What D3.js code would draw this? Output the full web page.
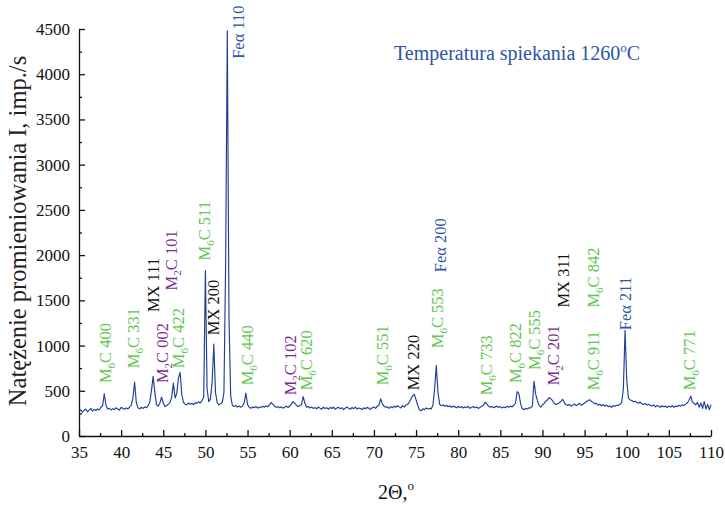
<!DOCTYPE html>
<html>
<head>
<meta charset="utf-8">
<script src="https://cdn.jsdelivr.net/npm/d3@7/dist/d3.min.js"></script>
<style>
  body { margin: 0; background: #fff; }
  svg { display: block; }
  text { font-family: "Liberation Serif", "Times New Roman", serif; }
</style>
</head>
<body>
<div id="chart"></div>
<script>
// scan: 2theta from 35 to 110, step 0.2 deg
const thetaStart = 35;
const thetaStep = 0.2;
const counts = [
  270, 290, 262, 284, 298, 268, 286, 305, 276, 292,
  282, 300, 288, 318, 335, 465, 340, 298, 306, 288,
  302, 292, 312, 298, 286, 318, 304, 296, 310, 300,
  318, 340, 420, 595, 370, 312, 300, 318, 305, 322,
  312, 335, 372, 505, 660, 480, 345, 330, 365, 430,
  365, 325, 338, 352, 372, 430, 585, 420, 470, 640,
  705, 455, 372, 352, 345, 366, 350, 362, 348, 370,
  360, 378, 366, 392, 430, 1830, 520, 380, 410, 600,
  1015, 480, 370, 345, 355, 370, 480, 1900, 4480, 1300,
  440, 340, 325, 338, 320, 332, 318, 328, 365, 475,
  350, 318, 306, 322, 312, 326, 308, 320, 315, 330,
  318, 334, 322, 345, 370, 352, 330, 318, 325, 312,
  322, 308, 318, 330, 315, 332, 350, 380, 362, 340,
  325, 338, 345, 436, 365, 318, 326, 310, 320, 305,
  315, 300, 322, 308, 296, 318, 305, 312, 298, 316,
  304, 320, 296, 310, 318, 300, 314, 292, 308, 320,
  305, 296, 315, 302, 320, 298, 310, 304, 292, 312,
  300, 318, 306, 294, 312, 320, 305, 330, 342, 410,
  355, 330, 318, 322, 306, 325, 312, 330, 318, 335,
  322, 310, 335, 320, 342, 350, 375, 410, 445, 460,
  400, 340, 290, 278, 300, 292, 310, 298, 305, 300,
  340, 520, 780, 480, 350, 335, 345, 328, 340, 322,
  335, 318, 330, 322, 312, 328, 316, 324, 310, 322,
  315, 328, 306, 318, 325, 312, 320, 305, 318, 330,
  340, 375, 352, 330, 318, 326, 312, 322, 330, 316,
  325, 310, 320, 312, 328, 318, 330, 322, 340, 365,
  490, 470, 360, 300, 292, 305, 298, 312, 310, 330,
  605, 460, 390, 340, 318, 345, 360, 385, 400, 425,
  410, 390, 362, 348, 355, 368, 385, 405, 370, 345,
  338, 350, 330, 342, 355, 335, 348, 362, 340, 352,
  365, 378, 392, 400, 385, 372, 355, 362, 340, 352,
  335, 348, 330, 342, 325, 332, 318, 335, 328, 340,
  338, 350, 372, 520, 1168, 620, 420, 398, 392, 378,
  385, 370, 362, 375, 355, 348, 360, 342, 350, 338,
  330, 345, 322, 338, 328, 318, 335, 322, 330, 315,
  328, 320, 335, 318, 330, 325, 340, 330, 345, 338,
  352, 368, 395, 440, 375, 360, 345, 372, 318, 365,
  305, 380, 298, 350, 292, 345
];

const xTicks = [35, 40, 45, 50, 55, 60, 65, 70, 75, 80, 85, 90, 95, 100, 105, 110];
const yTicks = [0, 500, 1000, 1500, 2000, 2500, 3000, 3500, 4000, 4500];

// peak labels: phase, reflection, 2theta, intensity where the label starts
const labelPhase = ["M6C", "M6C", "MX", "M2C", "M2C", "M6C", "M6C", "MX", "Fe", "M6C", "M2C", "M6C", "M6C",
  "MX", "M6C", "Fe", "M6C", "M6C", "M6C", "M2C", "MX", "M6C", "M6C", "Fe", "M6C"];
const labelHkl = ["400", "331", "111", "101", "002", "422", "511", "200", "110", "440", "102", "620", "551",
  "220", "553", "200", "733", "822", "555", "201", "311", "842", "911", "211", "771"];
const labelTheta = [38.1, 41.5, 43.8, 46.0, 44.85, 46.75, 49.95, 51.0, 53.9, 54.95, 60.15, 62.05, 71.05,
  74.75, 77.5, 77.85, 83.4, 86.75, 89.1, 91.25, 92.45, 96.1, 96.1, 99.9, 107.5];
const labelLevel = [585, 750, 1370, 1610, 585, 750, 1940, 1115, 4170, 560, 450, 505, 560,
  505, 970, 1810, 450, 585, 730, 560, 1420, 1420, 505, 1170, 505];

const phaseColor = { M6C: "#62c450", M2C: "#7a2b8f", MX: "#111111", Fe: "#2d55a8" };
const serif = '"Liberation Serif", "Times New Roman", serif';

const W = 725, H = 509;
const svg = d3.select("#chart").append("svg").attr("width", W).attr("height", H);

const x = d3.scaleLinear().domain([35, 110]).range([79, 711]);
const y = d3.scaleLinear().domain([0, 4500]).range([436, 29]);

// minor ticks halfway between major ones
const xMinor = xTicks.slice(0, -1).map((v) => v + 2.5);
const yMinor = yTicks.slice(0, -1).map((v) => v + 250);

// axes (ticks point inward)
svg.append("g").attr("transform", `translate(0,${y(0)})`)
  .call(d3.axisBottom(x).tickValues(xTicks).tickFormat(d3.format("d"))
    .tickSizeInner(-6).tickSizeOuter(0).tickPadding(10));
svg.append("g").attr("transform", `translate(0,${y(0)})`)
  .call(d3.axisBottom(x).tickValues(xMinor).tickSizeInner(-3).tickSizeOuter(0).tickFormat(""))
  .select(".domain").remove();

svg.append("g").attr("transform", `translate(${x(35)},0)`)
  .call(d3.axisLeft(y).tickValues(yTicks).tickFormat(d3.format("d"))
    .tickSizeInner(-6).tickSizeOuter(0).tickPadding(9));
svg.append("g").attr("transform", `translate(${x(35)},0)`)
  .call(d3.axisLeft(y).tickValues(yMinor).tickSizeInner(-3).tickSizeOuter(0).tickFormat(""))
  .select(".domain").remove();

svg.selectAll("g").attr("font-family", serif);
svg.selectAll(".tick text").attr("font-size", 17).attr("fill", "#111");
svg.selectAll(".domain, .tick line").attr("stroke", "#111").attr("stroke-width", 1.3);

// diffraction pattern
const line = d3.line()
  .x((d, i) => x(thetaStart + i * thetaStep))
  .y((d) => y(d));

svg.append("path").datum(counts)
  .attr("fill", "none")
  .attr("stroke", "#1c3f99")
  .attr("stroke-width", 1.15)
  .attr("stroke-linejoin", "round")
  .attr("d", line);

// peak labels, rotated
labelHkl.forEach((hkl, i) => {
  const phase = labelPhase[i];
  const t = svg.append("text")
    .attr("transform", `translate(${x(labelTheta[i]) + 5.5},${y(labelLevel[i])}) rotate(-90)`)
    .attr("font-size", 16.5)
    .attr("fill", phaseColor[phase]);
  if (phase === "M6C" || phase === "M2C") {
    t.append("tspan").text("M");
    t.append("tspan").attr("font-size", 11).attr("dy", 4).text(phase[1]);
    t.append("tspan").attr("dy", -4).text("C " + hkl);
  } else if (phase === "MX") {
    t.text("MX " + hkl);
  } else {
    t.text("Fe\u03b1 " + hkl);
  }
});

// annotation
const note = svg.append("text").attr("x", 394).attr("y", 60)
  .attr("font-size", 20).attr("fill", "#2d55a8");
note.append("tspan").text("Temperatura spiekania 1260");
note.append("tspan").attr("font-size", 13).attr("dy", -8).text("o");
note.append("tspan").attr("dy", 8).text("C");

// axis titles
const xt = svg.append("text").attr("x", 396).attr("y", 499)
  .attr("text-anchor", "middle").attr("font-size", 20).attr("fill", "#111");
xt.append("tspan").text("2\u0398,");
xt.append("tspan").attr("font-size", 13).attr("dy", -9).text("o");

svg.append("text")
  .attr("transform", "translate(26,231) rotate(-90)")
  .attr("text-anchor", "middle")
  .attr("font-size", 24.5)
  .attr("fill", "#222")
  .text("Natężenie promieniowania I, imp./s");
</script>
</body>
</html>
